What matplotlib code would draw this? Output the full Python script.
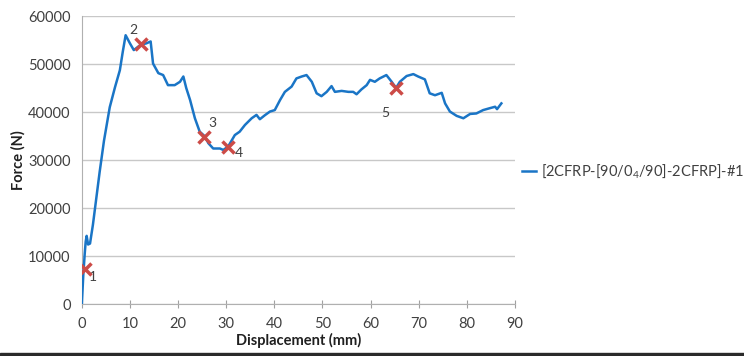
import matplotlib
matplotlib.use("Agg")
import matplotlib.pyplot as plt
from matplotlib.patches import Rectangle

plt.rcParams['font.family'] = ['Lato', 'DejaVu Sans']

# Curve data (displacement mm, force N)
disp = [0.0, 0.3, 0.6, 0.8, 1.0, 1.3, 1.7, 2.3, 3.0, 3.7, 4.6, 5.8, 6.9, 7.9,
        8.5, 9.1, 10.0, 10.8, 11.7, 12.4, 13.4, 14.3, 14.8, 15.9, 16.9, 17.9,
        19.3, 20.4, 21.1, 21.7, 22.5, 23.5, 24.5, 25.6, 26.3, 27.3, 28.7, 29.4,
        30.4, 31.8, 32.8, 33.9, 35.3, 36.3, 37.0, 38.0, 39.1, 40.1, 41.2, 42.2,
        43.6, 44.6, 45.7, 46.7, 47.8, 48.8, 49.8, 50.9, 51.9, 52.6, 54.0, 55.4,
        56.4, 57.1, 58.1, 59.2, 59.9, 60.9, 61.9, 63.3, 64.4, 65.3, 66.1, 67.5,
        68.9, 69.9, 71.3, 72.3, 73.4, 74.8, 75.5, 76.5, 77.9, 79.3, 80.7, 82.0,
        83.4, 84.8, 85.9, 86.3, 87.2]
force = [0, 6000, 10500, 13000, 14200, 12400, 12600, 16500, 22000, 27500, 34000,
         41000, 45200, 48700, 52500, 56000, 54300, 52900, 53600, 54100, 54300,
         54700, 50100, 48100, 47700, 45600, 45600, 46300, 47400, 45000, 42500,
         38700, 35900, 34900, 33500, 32400, 32400, 32100, 32800, 35200, 35900,
         37300, 38700, 39400, 38500, 39300, 40100, 40400, 42500, 44200, 45300,
         47000, 47400, 47700, 46300, 43900, 43300, 44200, 45400, 44200, 44400,
         44200, 44200, 43700, 44700, 45600, 46700, 46300, 47000, 47700, 46300,
         45000, 46300, 47500, 47900, 47400, 46800, 43900, 43500, 44000, 41800,
         40100, 39200, 38700, 39600, 39700, 40400, 40800, 41100, 40600, 41800]

# Marked points
mark_x = [0.6, 12.4, 25.4, 30.4, 65.3]
mark_y = [7300, 54100, 34800, 32700, 45000]
mark_labels = ['1', '2', '3', '4', '5']

x_ticks = [0, 10, 20, 30, 40, 50, 60, 70, 80, 90]
y_ticks = [0, 10000, 20000, 30000, 40000, 50000, 60000]

series_name = r'[2CFRP-[90/0$\mathregular{_4}$/90]-2CFRP]-#1'

fig = plt.figure(figsize=(7.44, 3.56), dpi=100)
ax = fig.add_axes([0.110, 0.146, 0.582, 0.809])

line_color = '#1a75c6'
ax.plot(disp, force, color=line_color, lw=1.8, label=series_name, zorder=3)
ax.plot(mark_x, mark_y, linestyle='none', marker='x', markersize=8,
        markeredgewidth=2.5, color='#cc4b47', zorder=4)

offsets = [(6, -6), (-6, 10), (6, 10), (8, -4), (-8, -18)]
for x, y, t, (dx, dy) in zip(mark_x, mark_y, mark_labels, offsets):
    ax.annotate(t, (x, y), xytext=(dx, dy), textcoords='offset points',
                fontsize=10, color='#404040', ha='center', va='center')

ax.set_xlim(0, 90)
ax.set_ylim(0, 60000)
ax.set_xticks(x_ticks)
ax.set_yticks(y_ticks)
ax.tick_params(axis='both', labelsize=10.5, colors='#404040', length=4)
ax.tick_params(axis='y', length=0, pad=8)
ax.tick_params(axis='x', color='#a0a0a0', direction='inout', length=6, pad=6)
ax.yaxis.grid(True, color='#c8c8c8', lw=1)
ax.set_axisbelow(True)
for s in ['top', 'right']:
    ax.spines[s].set_visible(False)
ax.spines['left'].set_color('#b0b0b0')
ax.spines['bottom'].set_color('#b0b0b0')

ax.set_xlabel('Displacement (mm)', fontsize=10.5, fontweight='bold', color='#202020', labelpad=2)
ax.set_ylabel('Force (N)', fontsize=10.5, fontweight='bold', color='#202020', labelpad=2)

leg = ax.legend(loc='center left', bbox_to_anchor=(1.016, 0.46), frameon=False,
                fontsize=10.5, handlelength=1.0, handletextpad=0.3,
                borderaxespad=0, borderpad=0)
for t in leg.get_texts():
    t.set_color('#404040')

fig.patches.append(Rectangle((0, 0), 1, 3/356, transform=fig.transFigure,
                             color='#2a2a2a', zorder=10))

fig.savefig('out.png', dpi=100)
